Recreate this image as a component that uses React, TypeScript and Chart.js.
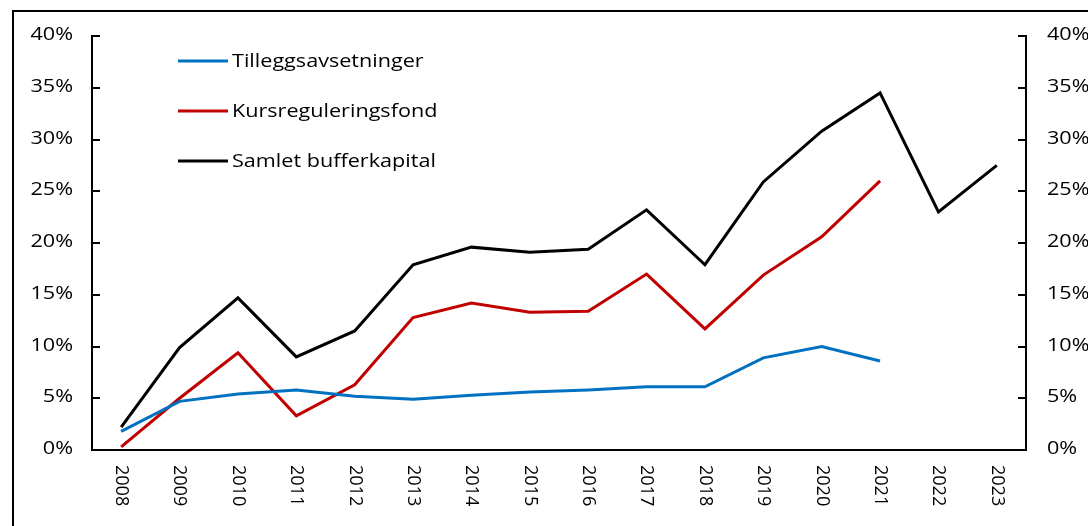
import React, { useEffect, useRef } from "react";
import { Chart, registerables } from "chart.js";

Chart.register(...registerables);

const years = ["2008","2009","2010","2011","2012","2013","2014","2015","2016","2017","2018","2019","2020","2021","2022","2023"];
const tilleggsavsetninger = [1.8, 4.7, 5.4, 5.8, 5.2, 4.9, 5.3, 5.6, 5.8, 6.1, 6.1, 8.9, 10.0, 8.6, null, null];
const kursreguleringsfond = [0.3, 5.0, 9.4, 3.3, 6.3, 12.8, 14.2, 13.3, 13.4, 17.0, 11.7, 16.9, 20.6, 26.0, null, null];
const samletBufferkapital = [2.2, 9.9, 14.7, 9.0, 11.5, 17.9, 19.6, 19.1, 19.4, 23.2, 17.9, 25.9, 30.8, 34.5, 23.0, 27.5];
const seriesNames = ["Tilleggsavsetninger", "Kursreguleringsfond", "Samlet bufferkapital"];
const seriesColors = ["#0070C0", "#C00000", "#000000"];
const yMin = 0;
const yMax = 40;
const yStep = 5;

const FONT = "'Open Sans', 'DejaVu Sans', sans-serif";
const FONT_SIZE = 18;
const STRETCH = 1.2;

export default function App() {
  const ref = useRef<HTMLCanvasElement>(null);
  useEffect(() => {
    if (!ref.current) return;
    const framePlugin = {
      id: "frame",
      afterDraw(chart: any) {
        const ctx = chart.ctx;
        ctx.save();
        ctx.fillStyle = "#000";
        ctx.fillRect(12, 10, 1076, 2);
        ctx.fillRect(12, 10, 2, 516);
        ctx.font = `${FONT_SIZE}px ${FONT}`;
        // legend
        const ys = [61, 111, 161];
        seriesNames.forEach((n, i) => {
          ctx.strokeStyle = seriesColors[i];
          ctx.lineWidth = 3;
          ctx.beginPath();
          ctx.moveTo(178, ys[i]);
          ctx.lineTo(228, ys[i]);
          ctx.stroke();
          ctx.save();
          ctx.translate(232, ys[i] + 6);
          ctx.scale(STRETCH, 1);
          ctx.textAlign = "left";
          ctx.textBaseline = "alphabetic";
          ctx.fillStyle = "#000";
          ctx.fillText(n, 0, 0);
          ctx.restore();
        });
        // y tick labels (both axes)
        const drawY = (scale: any, x: number, align: "left" | "right") => {
          scale.ticks.forEach((t: any, i: number) => {
            const y = scale.getPixelForTick(i);
            ctx.save();
            ctx.translate(x, y - 1);
            ctx.scale(STRETCH, 1);
            ctx.textAlign = align;
            ctx.textBaseline = "middle";
            ctx.fillStyle = "#000";
            ctx.fillText(`${t.value}%`, 0, 0);
            ctx.restore();
          });
        };
        drawY(chart.scales.y, 73, "right");
        drawY(chart.scales.y2, 1047, "left");
        // rotated x labels
        const xs = chart.scales.x;
        xs.ticks.forEach((t: any, i: number) => {
          const x = xs.getPixelForTick(i);
          ctx.save();
          ctx.translate(x, 465);
          ctx.rotate(Math.PI / 2);
          ctx.textAlign = "left";
          ctx.textBaseline = "middle";
          ctx.fillStyle = "#000";
          ctx.fillText(xs.getLabelForValue(t.value), 0, 0);
          ctx.restore();
        });
        ctx.restore();
      },
    };
    const yAxis = (position: "left" | "right", width: number) => ({
      position,
      min: yMin,
      max: yMax,
      afterFit: (s: any) => { s.width = width; },
      border: { display: true, color: "#000", width: 2 },
      grid: { drawOnChartArea: false, drawTicks: true, tickLength: -8, color: "#000", lineWidth: 2 },
      ticks: {
        stepSize: yStep,
        color: "rgba(0,0,0,0)",
        font: { family: FONT, size: FONT_SIZE },
        callback: (v: any) => `${v}%`,
      },
    });
    const chart = new Chart(ref.current, {
      type: "line",
      data: {
        labels: years,
        datasets: [
          { label: seriesNames[0], data: tilleggsavsetninger, borderColor: seriesColors[0], backgroundColor: seriesColors[0], borderWidth: 3, pointRadius: 0, yAxisID: "y" },
          { label: seriesNames[1], data: kursreguleringsfond, borderColor: seriesColors[1], backgroundColor: seriesColors[1], borderWidth: 3, pointRadius: 0, yAxisID: "y" },
          { label: seriesNames[2], data: samletBufferkapital, borderColor: seriesColors[2], backgroundColor: seriesColors[2], borderWidth: 3, pointRadius: 0, yAxisID: "y" },
        ],
      },
      options: {
        responsive: false,
        animation: false,
        layout: { padding: { top: 36, left: 0, right: 0, bottom: 0 } },
        plugins: { legend: { display: false }, tooltip: { enabled: false } },
        scales: {
          x: {
            offset: true,
            afterFit: (s: any) => { s.height = 76; },
            border: { display: true, color: "#000", width: 2 },
            grid: { display: false },
            ticks: { display: false },
          },
          y: yAxis("left", 92) as any,
          y2: yAxis("right", 62) as any,
        },
      },
      plugins: [framePlugin],
    });
    return () => chart.destroy();
  }, []);
  return (
    <div style={{ position: "fixed", left: 0, top: 0, width: 1088, height: 526, background: "#fff" }}>
      <canvas ref={ref} width={1088} height={526} />
    </div>
  );
}
